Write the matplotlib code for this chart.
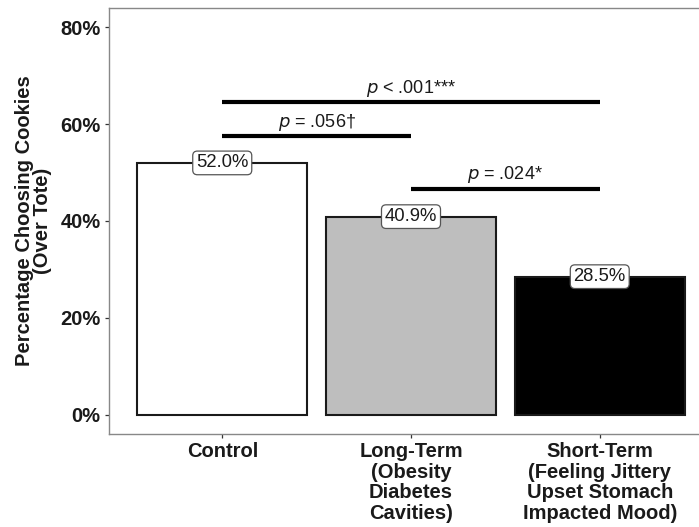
import matplotlib
matplotlib.use("Agg")
import matplotlib.pyplot as plt
from matplotlib.ticker import FuncFormatter

plt.rcParams['font.family'] = ['Liberation Sans', 'DejaVu Sans']

categories = ["Control", "Long-Term\n(Obesity\nDiabetes\nCavities)",
              "Short-Term\n(Feeling Jittery\nUpset Stomach\nImpacted Mood)"]
values = [52.0, 40.9, 28.5]
bar_colors = ["#FFFFFF", "#BEBEBE", "#000000"]
yticks = [0, 20, 40, 60, 80]

# significance brackets: (start index, end index, height, label)
sig_pairs = [(0, 2, 64.6, "$\\it{p}$ < .001***"),
             (0, 1, 57.5, "$\\it{p}$ = .056\u2020"),
             (1, 2, 46.7, "$\\it{p}$ = .024*")]

fig = plt.figure(figsize=(6.99, 5.27), dpi=100)
ax = fig.add_axes([109/699, 1 - 434/527, (713 - 109)/699, (434 - 8)/527])

x = list(range(1, len(categories) + 1))
ax.bar(x, values, width=0.9, color=bar_colors, edgecolor="#1a1a1a", linewidth=1.5, zorder=2)

for xi, v in zip(x, values):
    ax.text(xi, v, f"{v:.1f}%", ha="center", va="center", fontsize=13.3, color="#1a1a1a",
            bbox=dict(boxstyle="round,pad=0.18,rounding_size=0.25", fc="white", ec="#555555", lw=0.9),
            zorder=4)

for i0, i1, h, lab in sig_pairs:
    ax.plot([x[i0], x[i1]], [h, h], color="black", lw=3, solid_capstyle="butt", zorder=3)
    ax.text((x[i0] + x[i1]) / 2, h + 0.7, lab, ha="center", va="bottom", fontsize=13,
            color="#1a1a1a")

ax.set_xlim(0.4, 3.6)
ax.set_ylim(-4, 84)
ax.set_yticks(yticks)
ax.yaxis.set_major_formatter(FuncFormatter(lambda v, p: f"{v:.0f}%"))
ax.set_xticks(x)
ax.set_xticklabels(categories, fontweight="bold", fontsize=14.5, color="#1a1a1a", linespacing=1.1)
for lab in ax.get_yticklabels():
    lab.set_fontweight("bold")
    lab.set_fontsize(14.5)
    lab.set_color("#1a1a1a")
ax.tick_params(axis="both", length=3, width=0.9, color="#333333", pad=3)
for s in ax.spines.values():
    s.set_color("#888888")
    s.set_linewidth(1.0)
ax.spines["right"].set_visible(False)

ax.set_ylabel("Percentage Choosing Cookies\n(Over Tote)", fontweight="bold", fontsize=14.5,
              color="#1a1a1a", linespacing=0.95, labelpad=6)

fig.savefig("out.png", dpi=100)
